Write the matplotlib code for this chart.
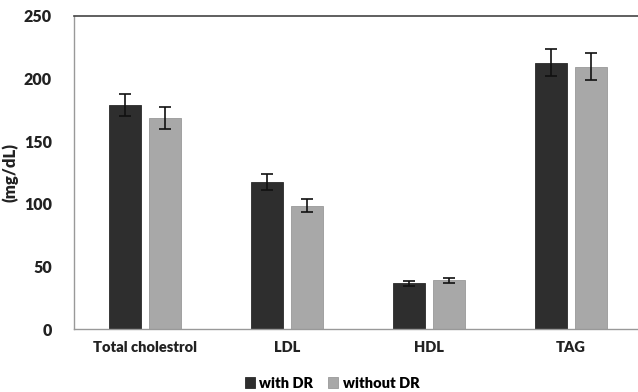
import matplotlib
matplotlib.use("Agg")
import matplotlib.pyplot as plt
import numpy as np

categories = ["Total cholestrol", "LDL", "HDL", "TAG"]
with_dr = [179, 117.5, 36.7, 212.7]
with_dr_err = [9, 6.5, 2, 11]
without_dr = [168.5, 98.5, 38.9, 209.5]
without_dr_err = [8.5, 5, 2, 11]
yticks = [0, 50, 100, 150, 200, 250]

plt.rcParams['font.family'] = ['Lato', 'DejaVu Sans']
fig = plt.figure(figsize=(6.38, 3.92), dpi=100)
W, H = 638, 392
ax = fig.add_axes([74 / W, 1 - 329 / H, 568 / W, 313 / H])

x = np.arange(len(categories))
w = 0.225
off = 0.143
ax.bar(x - off, with_dr, w, color="#2e2e2e", edgecolor="#2a2a2a", linewidth=0.6,
       yerr=with_dr_err, error_kw=dict(ecolor="#111111", elinewidth=1.2, capsize=4, capthick=1.2),
       label="with DR")
ax.bar(x + off, without_dr, w, color="#a8a8a8", edgecolor="#999999", linewidth=0.6,
       yerr=without_dr_err, error_kw=dict(ecolor="#111111", elinewidth=1.2, capsize=4, capthick=1.2),
       label="without DR")

ax.set_xlim(-0.5, len(categories) - 0.5)
ax.set_ylim(0, 250)
ax.set_yticks(yticks)
ax.set_yticklabels([str(v) for v in yticks], fontsize=11.5, fontweight="heavy", color="#222222")
ax.set_xticks(x)
ax.set_xticklabels(categories, fontsize=10.5, fontweight="heavy", color="#222222")
ax.tick_params(axis="y", length=0, pad=16)
ax.tick_params(axis="x", length=0, pad=9)
ax.set_ylabel("(mg/dL)", fontsize=12, fontweight="heavy", color="#222222")
ax.yaxis.set_label_coords((19 - 74) / 568, 0.5)

for s in ["left", "bottom"]:
    ax.spines[s].set_color("#999999")
    ax.spines[s].set_linewidth(1.0)
ax.spines["top"].set_color("#444444")
ax.spines["top"].set_linewidth(1.2)
ax.spines["right"].set_visible(False)

leg = fig.legend(loc="center", bbox_to_anchor=(332 / W, 1 - 383 / H), ncol=2, frameon=False,
                 prop=dict(family=['Lato', 'DejaVu Sans'], weight="heavy", size=10.5),
                 handlelength=0.7, handleheight=0.7, handletextpad=0.3, columnspacing=1.0)

fig.savefig("out.png", dpi=100)
